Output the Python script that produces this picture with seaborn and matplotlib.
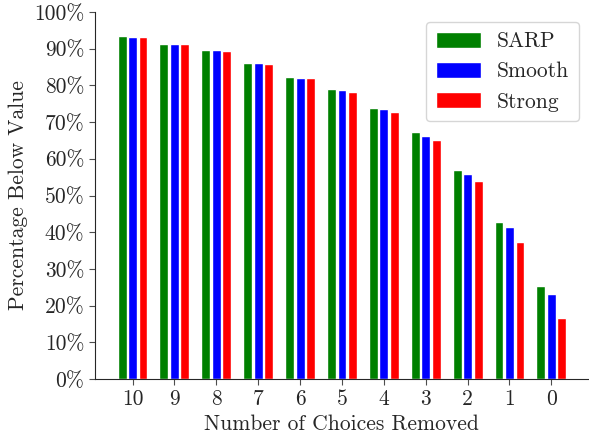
import seaborn as sns
import matplotlib.pyplot as plt
import matplotlib.ticker as mticker
import pandas as pd

# values (percent)
removed = ["10", "9", "8", "7", "6", "5", "4", "3", "2", "1", "0"]
sarp = [93.5, 91.4, 89.7, 86.2, 82.4, 79.1, 73.9, 67.4, 57.0, 42.8, 25.4]
smooth = [93.2, 91.3, 89.7, 86.2, 82.1, 78.8, 73.6, 66.3, 55.9, 41.5, 23.2]
strong = [93.2, 91.3, 89.4, 85.9, 82.1, 78.2, 72.8, 65.2, 54.0, 37.4, 16.6]
methods = ["SARP", "Smooth", "Strong"]

data = pd.DataFrame({
    "removed": removed * 3,
    "value": sarp + smooth + strong,
    "method": [m for m in methods for _ in removed],
})

sns.set_style("ticks")
plt.rcParams["font.family"] = ["cmr10", "DejaVu Serif"]
plt.rcParams["mathtext.fontset"] = "cm"
plt.rcParams["axes.formatter.use_mathtext"] = True

fs = 15.5
fig = plt.figure(figsize=(5.89, 4.41), dpi=100)
ax = fig.add_axes([0.161, 0.1406, 0.837, 0.832])

palette = {"SARP": "#008000", "Smooth": "#0000ff", "Strong": "#ff0000"}
sns.barplot(data=data, x="removed", y="value", hue="method", order=removed,
            hue_order=methods, palette=palette, saturation=1, width=0.75,
            gap=0.15, ax=ax)

ax.set_ylim(0, 100)
ax.set_xlim(-0.9, 10.87)
ax.yaxis.set_major_locator(mticker.MultipleLocator(10))
ax.yaxis.set_major_formatter(mticker.FuncFormatter(lambda v, p: f"{v:.0f}%"))
ax.tick_params(labelsize=fs, length=4, color="0.3")
ax.set_xlabel("Number of Choices Removed", fontsize=fs)
ax.set_ylabel("Percentage Below Value", fontsize=fs)
sns.despine(ax=ax)

ax.legend(loc="upper right", fontsize=fs, handlelength=2.1, handleheight=0.75,
          handletextpad=0.75, borderpad=0.45, labelspacing=0.5,
          borderaxespad=0, bbox_to_anchor=(0.982, 0.973))

fig.savefig("out.png", dpi=100)
